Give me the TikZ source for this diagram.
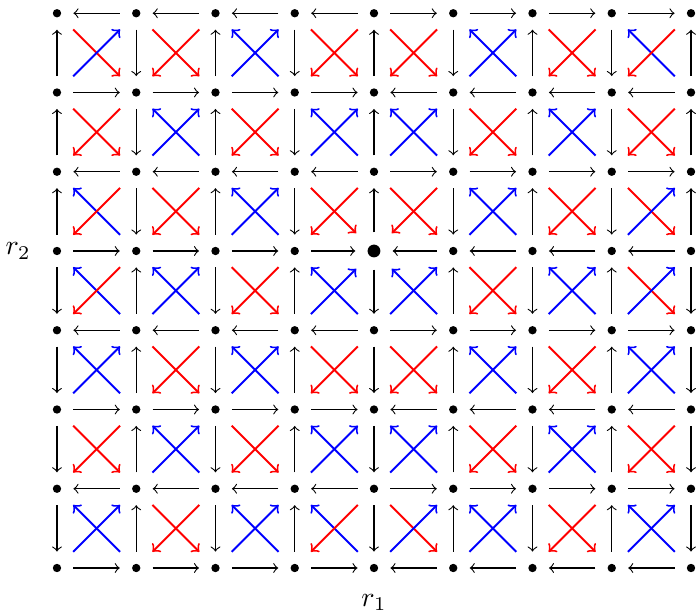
\documentclass[tikz,border=0pt]{standalone}
\usepackage{tikz}
\begin{document}
\begin{tikzpicture}[x=1cm, y=1cm,
    dot/.style={circle, fill=black, inner sep=0pt, minimum size=3pt},
    origin/.style={circle, fill=black, inner sep=0pt, minimum size=4.6pt},
    flow/.style={->, shorten >=4.2pt, shorten <=4.2pt},
    diag/.style={line width=0.7pt, shorten >=6.5pt, shorten <=6.5pt},
    mR/.style={red, ->}, mB/.style={blue, <-},
    aR/.style={red, <-}, aB/.style={blue, ->}]
    \useasboundingbox (-4.719,-4.580) rectangle (4.063,3.167);

    % lattice points: columns 0..8, rows 0..7 counted from the top
    \foreach \i in {0,...,8}
        \foreach \j in {0,...,7}
            \node [dot] (pt-\i-\j) at (\i-4, 3-\j) {};
    \node [origin] (pt-4-3) at (0,0) {};

    % horizontal arrows
    \foreach \j in {0,2,4,6} {
        \foreach \a/\b in {0/1,1/2,2/3,3/4} \draw [flow] (pt-\b-\j) -- (pt-\a-\j);
        \foreach \a/\b in {4/5,5/6,6/7,7/8} \draw [flow] (pt-\a-\j) -- (pt-\b-\j);
    }
    \foreach \j in {1,3,5,7} {
        \foreach \a/\b in {0/1,1/2,2/3,3/4} \draw [flow] (pt-\a-\j) -- (pt-\b-\j);
        \foreach \a/\b in {4/5,5/6,6/7,7/8} \draw [flow] (pt-\b-\j) -- (pt-\a-\j);
    }

    % vertical arrows
    \foreach \a/\b in {0/1,1/2,2/3} {
        \foreach \i in {0,2,4,6,8} \draw [flow] (pt-\i-\b) -- (pt-\i-\a);
        \foreach \i in {1,3,5,7} \draw [flow] (pt-\i-\a) -- (pt-\i-\b);
    }
    \foreach \a/\b in {3/4,4/5,5/6,6/7} {
        \foreach \i in {0,2,4,6,8} \draw [flow] (pt-\i-\a) -- (pt-\i-\b);
        \foreach \i in {1,3,5,7} \draw [flow] (pt-\i-\b) -- (pt-\i-\a);
    }

    % diagonal arrows in each cell (main diagonal / anti diagonal colour)
    \foreach \r/\s/\cells in {0/1/{R/B,R/R,B/B,R/R,R/R,B/B,R/R,B/R},
                              1/2/{R/R,B/B,R/R,B/B,B/B,R/R,B/B,R/R},
                              2/3/{B/R,R/R,B/B,R/R,R/R,B/B,R/R,R/B},
                              3/4/{B/R,B/B,R/R,B/B,B/B,R/R,B/B,R/B},
                              4/5/{B/B,R/R,B/B,R/R,R/R,B/B,R/R,B/B},
                              5/6/{R/R,B/B,R/R,B/B,B/B,R/R,B/B,R/R},
                              6/7/{B/B,R/R,B/B,B/R,R/B,B/B,R/R,B/B}} {
        \foreach \m/\n [count=\c from 0] in \cells {
            \pgfmathtruncatemacro\cc{\c+1}
            \draw [diag, m\m] (pt-\c-\r) -- (pt-\cc-\s);
            \draw [diag, a\n] (pt-\c-\s) -- (pt-\cc-\r);
        }
    }

    \node (r2) at (-4.49,0) {$r_2$};
    \node (r1) at (0,-4.44) {$r_1$};
\end{tikzpicture}
\end{document}
